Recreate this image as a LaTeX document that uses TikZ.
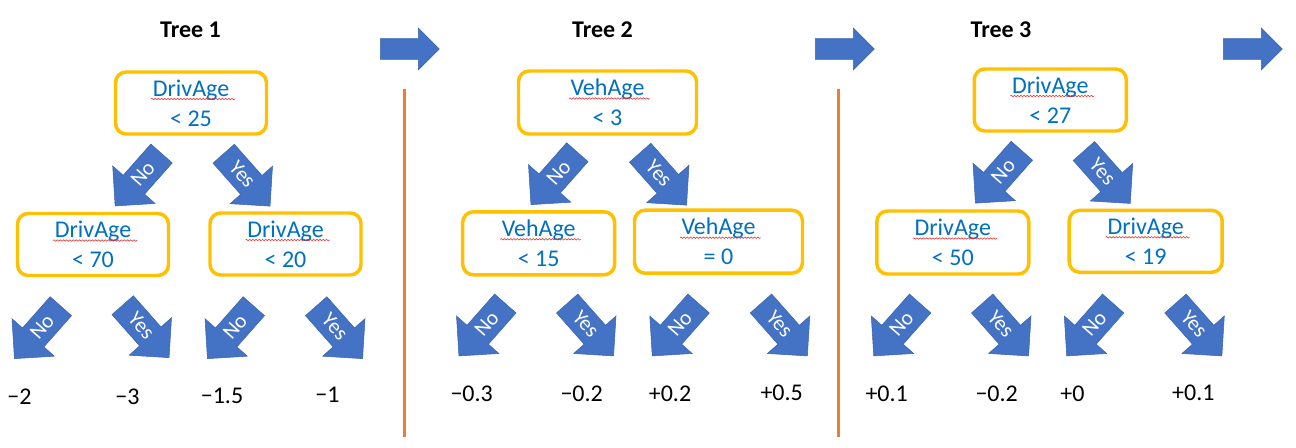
\documentclass[tikz,border=0pt]{standalone}
\usepackage{fontspec}
\setmainfont{Carlito}
\usetikzlibrary{shapes.arrows,decorations.pathmorphing}
\definecolor{arrowblue}{HTML}{4472C4}
\definecolor{arrowedge}{HTML}{3A64B0}
\definecolor{boxgold}{HTML}{FFC000}
\definecolor{textblue}{HTML}{0070C0}
\definecolor{lineorange}{HTML}{ED7D31}
\definecolor{spellred}{HTML}{E03A3A}
\tikzset{
  treebox/.style 2 args={draw=boxgold, line width=2.6pt, rounded corners=8pt,
    fill=white, text=textblue, font=\fontsize{18}{22.5}\selectfont, align=center,
    minimum width={#1*0.75pt}, minimum height={#2*0.75pt}, inner sep=0pt},
  branch/.style={single arrow, fill=arrowblue, draw=arrowedge, line width=0.4pt,
    minimum height=52.5pt, single arrow head extend=10.5pt,
    single arrow tip angle=90, single arrow head indent=0pt, inner sep=0pt,
    text height=15.3pt, text depth=5.7pt,
    text=white, font=\fontsize{16}{18}\selectfont, anchor=tail},
  nobranch/.style={branch, shape border rotate=180, rotate=48.5},
  yesbranch/.style={branch, rotate=-48.5},
  flow/.style={single arrow, fill=arrowblue, draw=arrowedge, line width=0.4pt,
    minimum height=44.25pt, single arrow head extend=7.9pt,
    text height=15pt, text depth=0pt,
    single arrow tip angle=90, single arrow head indent=0pt, inner sep=0pt, anchor=tail},
  title/.style={font=\fontsize{18}{22}\selectfont\bfseries, text=black, inner sep=0pt},
  leaf/.style={font=\fontsize{18}{22}\selectfont, text=black, inner sep=0pt},
  divider/.style={draw=lineorange, line width=2.25pt},
  spell/.style={draw=spellred, line width=0.45pt, decorate,
    decoration={snake, amplitude=0.55pt, segment length=2.4pt}}
}
\begin{document}
\begin{tikzpicture}[x=0.75pt,y=-0.75pt]
\useasboundingbox (0,0) rectangle (1296,447);
\fill[white] (0,0) rectangle (1296,447);

% titles
\node[title] (title1) at (190.5,30) {Tree 1};
\node[title] (title2) at (602.5,30) {Tree 2};
\node[title] (title3) at (1001,30) {Tree 3};

% flow arrows
\node[flow] (flow1) at (380,49) {};
\node[flow] (flow2) at (815,49) {};
\node[flow] (flow3) at (1223,49) {};

% dividers
\coordinate (d1top) at (404,89);  \coordinate (d1bot) at (404,437);
\coordinate (d2top) at (838,89);  \coordinate (d2bot) at (838,437);
\draw[divider] (d1top) -- (d1bot);
\draw[divider] (d2top) -- (d2bot);

% ---------- Tree 1 ----------
\node[treebox={151}{62}] (t1r) at (191,103) {DrivAge\\< 25};
\node[treebox={151}{62}] (t1a) at (93,244.5) {DrivAge\\< 70};
\node[treebox={151}{62}] (t1b) at (285.5,244) {DrivAge\\< 20};
\node[nobranch]  (t1rn) at (161.7,153.3) {No};
\node[yesbranch] (t1ry) at (223.5,153.5) {Yes};
\node[nobranch]  (t1an) at (61,306) {No};
\node[yesbranch] (t1ay) at (122.5,305) {Yes};
\node[nobranch]  (t1bn) at (254,306) {No};
\node[yesbranch] (t1by) at (316,306) {Yes};
\node[leaf] (t1l1) at (19.5,397) {−2};
\node[leaf] (t1l2) at (127.5,397) {−3};
\node[leaf] (t1l3) at (222,396) {−1.5};
\node[leaf] (t1l4) at (327.5,395) {−1};

% ---------- Tree 2 ----------
\node[treebox={178}{63}] (t2r) at (607.5,102.5) {VehAge\\< 3};
\node[treebox={152}{63}] (t2a) at (538.7,243.3) {VehAge\\< 15};
\node[treebox={168}{63}] (t2b) at (718.5,241.7) {VehAge\\= 0};
\node[nobranch]  (t2rn) at (577.5,152) {No};
\node[yesbranch] (t2ry) at (640,152.5) {Yes};
\node[nobranch]  (t2an) at (505.5,303.3) {No};
\node[yesbranch] (t2ay) at (567,303.3) {Yes};
\node[nobranch]  (t2bn) at (698.8,303.3) {No};
\node[yesbranch] (t2by) at (760.8,303.3) {Yes};
\node[leaf] (t2l1) at (471.7,394) {−0.3};
\node[leaf] (t2l2) at (581.7,394) {−0.2};
\node[leaf] (t2l3) at (670,394) {+0.2};
\node[leaf] (t2l4) at (781.7,393) {+0.5};

% ---------- Tree 3 ----------
\node[treebox={152}{62}] (t3r) at (1050.3,100) {DrivAge\\< 27};
\node[treebox={152}{63}] (t3a) at (952.8,242.5) {DrivAge\\< 50};
\node[treebox={153}{62}] (t3b) at (1145.7,241.3) {DrivAge\\< 19};
\node[nobranch]  (t3rn) at (1022,150.5) {No};
\node[yesbranch] (t3ry) at (1083.7,150.8) {Yes};
\node[nobranch]  (t3an) at (920.3,303.3) {No};
\node[yesbranch] (t3ay) at (982,303.3) {Yes};
\node[nobranch]  (t3bn) at (1113.3,303.3) {No};
\node[yesbranch] (t3by) at (1175.3,303.3) {Yes};
\node[leaf] (t3l1) at (886.7,394) {+0.1};
\node[leaf] (t3l2) at (996.7,394) {−0.2};
\node[leaf] (t3l3) at (1072.5,394) {+0};
\node[leaf] (t3l4) at (1193.3,393) {+0.1};

% spell-check underlines
\foreach \b in {t1r,t1a,t1b,t3r,t3a,t3b}{
  \draw[spell] ([shift={(-40,-4)}]\b.center) -- ([shift={(44,-4)}]\b.center);
}
\foreach \b in {t2r,t2a,t2b}{
  \draw[spell] ([shift={(-38.5,-4)}]\b.center) -- ([shift={(42,-4)}]\b.center);
}
\end{tikzpicture}
\end{document}
